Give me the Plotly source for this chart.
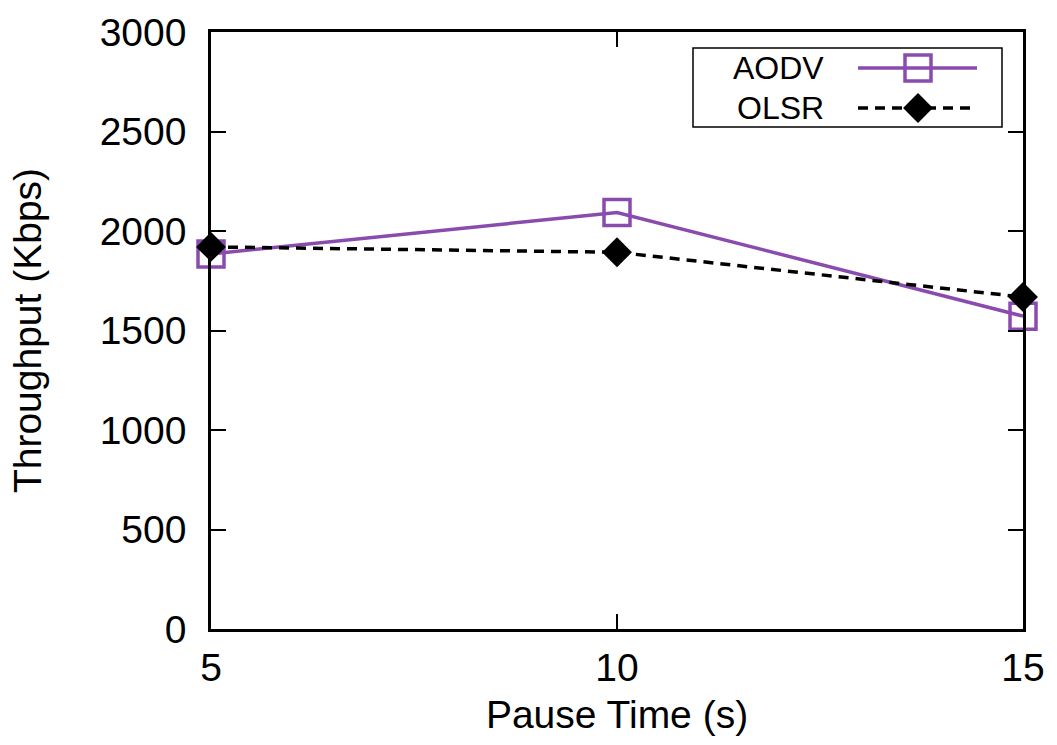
import plotly.graph_objects as go

pause_time = [5, 10, 15]
aodv = [1885, 2093, 1572]
olsr = [1920, 1893, 1668]
series_names = ["AODV", "OLSR"]
y_ticks = [0, 500, 1000, 1500, 2000, 2500, 3000]
x_ticks = [5, 10, 15]

PURPLE = "#8A4BAF"
FONT = "Liberation Sans, Arial, sans-serif"
FS = 39

W, H = 1057, 745
L, R, T, B = 211, 34, 32, 116
PW, PH = W - L - R, H - T - B

def px(x):
    return (x - L) / PW

def py(y):
    return 1 - (y - T) / PH

fig = go.Figure()
fig.add_trace(go.Scatter(
    x=pause_time, y=aodv, mode="lines+markers", name=series_names[0],
    line=dict(color=PURPLE, width=3.5),
    marker=dict(symbol="square-open", size=26, color=PURPLE, line=dict(width=3.5, color=PURPLE)),
    cliponaxis=False, showlegend=False))
fig.add_trace(go.Scatter(
    x=pause_time, y=olsr, mode="lines+markers", name=series_names[1],
    line=dict(color="black", width=3.5, dash="10px,7px"),
    marker=dict(symbol="diamond", size=23, color="black"),
    cliponaxis=False, showlegend=False))

# custom legend (gnuplot style: label left, sample right)
lx0, lx1 = px(858), px(977)
lm = px(918)
rows = [py(68), py(108)]
fig.add_trace(go.Scatter(x=[lx0, lm, lx1], y=[rows[0]] * 3, xaxis="x2", yaxis="y2",
    mode="lines", line=dict(color=PURPLE, width=3.5), showlegend=False, hoverinfo="skip"))
fig.add_trace(go.Scatter(x=[lm], y=[rows[0]], xaxis="x2", yaxis="y2", mode="markers",
    marker=dict(symbol="square-open", size=26, color=PURPLE, line=dict(width=3.5, color=PURPLE)),
    showlegend=False, hoverinfo="skip"))
fig.add_trace(go.Scatter(x=[lx0, lm, lx1], y=[rows[1]] * 3, xaxis="x2", yaxis="y2",
    mode="lines", line=dict(color="black", width=3.5, dash="10px,7px"), showlegend=False, hoverinfo="skip"))
fig.add_trace(go.Scatter(x=[lm], y=[rows[1]], xaxis="x2", yaxis="y2", mode="markers",
    marker=dict(symbol="diamond", size=23, color="black"),
    showlegend=False, hoverinfo="skip"))

for name, yy in zip(series_names, rows):
    fig.add_annotation(x=px(826), y=yy, xref="paper", yref="paper", text=name,
                       showarrow=False, xanchor="right", yanchor="middle",
                       font=dict(family=FONT, size=32, color="black"))

fig.add_shape(type="rect", xref="paper", yref="paper",
              x0=px(693), x1=px(1002), y0=py(127), y1=py(48),
              line=dict(color="black", width=1.5), fillcolor="rgba(0,0,0,0)")

axis_common = dict(showline=True, linecolor="black", linewidth=2.5, mirror="ticks",
                   ticks="inside", ticklen=15, tickwidth=2, tickcolor="black",
                   showgrid=False, zeroline=False,
                   tickfont=dict(family=FONT, size=FS, color="black"))

fig.update_layout(
    width=W, height=H,
    margin=dict(l=L, r=R, t=T, b=B),
    paper_bgcolor="white", plot_bgcolor="white",
    xaxis=dict(range=[5, 15], tickvals=x_ticks, ticktext=[str(v) for v in x_ticks],
               ticklabelstandoff=2,
               title=dict(text="Pause Time (s)", font=dict(family=FONT, size=FS, color="black"), standoff=14),
               **axis_common),
    yaxis=dict(range=[0, 3000], tickvals=y_ticks, ticktext=[str(v) for v in y_ticks],
               ticklabelstandoff=14,
               title=dict(text="Throughput (Kbps)", font=dict(family=FONT, size=FS, color="black"), standoff=47),
               **axis_common),
    xaxis2=dict(range=[0, 1], overlaying="x", visible=False, fixedrange=True),
    yaxis2=dict(range=[0, 1], overlaying="y", visible=False, fixedrange=True),
    showlegend=False,
)

fig.write_html("out.html")
